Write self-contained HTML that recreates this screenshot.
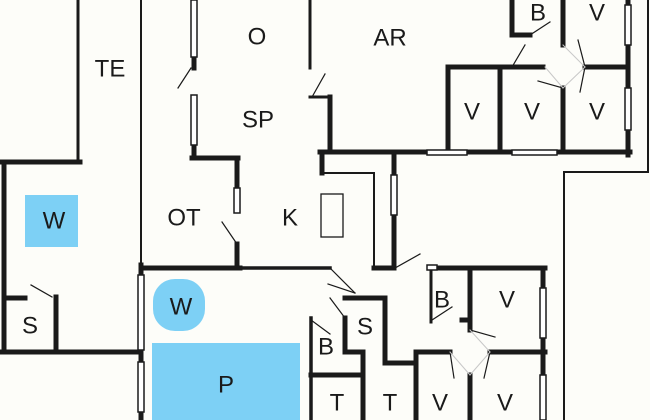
<!DOCTYPE html>
<html><head><meta charset="utf-8"><style>
html,body{margin:0;padding:0;background:#fdfdf9}
svg{display:block}
text{font-family:"Liberation Sans",sans-serif;font-size:24px;fill:#1a1a1a;text-anchor:middle;dominant-baseline:central}
</style></head><body>
<svg width="650" height="420" viewBox="0 0 650 420">
<rect width="650" height="420" fill="#fdfdf9"/>
<rect x="25" y="195" width="53" height="52" fill="#7dd0f5"/>
<rect x="153" y="279" width="52" height="52" rx="22" fill="#7dd0f5"/>
<rect x="152" y="343" width="148" height="77" fill="#7dd0f5"/>
<g stroke="#1a1a1a" fill="none" stroke-linecap="square">
<g stroke-width="2">
<line x1="78" y1="0" x2="78" y2="160" stroke-width="3"/>
<line x1="141" y1="0" x2="141" y2="265"/>
<line x1="648" y1="0" x2="648" y2="172"/>
<line x1="565" y1="172" x2="648" y2="172"/>
<line x1="564" y1="172" x2="564" y2="420"/>
<line x1="322" y1="173" x2="374" y2="173"/>
<line x1="374" y1="173" x2="374" y2="268"/>
<rect x="321" y="194" width="22" height="43" stroke-width="1.3"/>
<line x1="240" y1="268" x2="330" y2="268" stroke-width="3.5"/>
</g>
<g stroke-width="5">
<line x1="0" y1="162" x2="80" y2="162"/>
<line x1="4" y1="162" x2="4" y2="352"/>
<line x1="0" y1="352" x2="141" y2="352"/>
<line x1="4" y1="298" x2="25" y2="298"/>
<line x1="56" y1="297" x2="56" y2="352"/>
<line x1="141" y1="265" x2="141" y2="420"/>
<line x1="141" y1="268" x2="240" y2="268"/>
<line x1="194" y1="57" x2="194" y2="68"/>
<line x1="194" y1="145" x2="194" y2="158"/>
<line x1="192" y1="158" x2="238" y2="158"/>
<line x1="237" y1="158" x2="237" y2="188"/>
<line x1="237" y1="244" x2="237" y2="268"/>
<line x1="310" y1="0" x2="310" y2="68" stroke-width="3"/>
<line x1="310" y1="97" x2="330" y2="97" stroke-width="3"/>
<line x1="330" y1="97" x2="330" y2="152"/>
<line x1="320" y1="152" x2="630" y2="152"/>
<line x1="322" y1="152" x2="322" y2="173"/>
<line x1="374" y1="268" x2="392" y2="268"/>
<line x1="394" y1="152" x2="394" y2="268"/>
<line x1="437" y1="268" x2="545" y2="268"/>
<line x1="628" y1="0" x2="628" y2="155"/>
<line x1="512" y1="0" x2="512" y2="35"/>
<line x1="512" y1="35" x2="530" y2="35"/>
<line x1="563" y1="0" x2="563" y2="45"/>
<line x1="448" y1="67" x2="543" y2="67"/>
<line x1="585" y1="67" x2="628" y2="67"/>
<line x1="448" y1="67" x2="448" y2="152"/>
<line x1="500" y1="67" x2="500" y2="152"/>
<line x1="563" y1="88" x2="563" y2="152"/>
<line x1="311" y1="318" x2="311" y2="420" stroke-width="3.5"/>
<line x1="311" y1="375" x2="363" y2="375"/>
<line x1="345" y1="298" x2="385" y2="298"/>
<line x1="385" y1="298" x2="385" y2="363"/>
<line x1="345" y1="318" x2="345" y2="352"/>
<line x1="345" y1="352" x2="363" y2="352"/>
<line x1="363" y1="352" x2="363" y2="420"/>
<line x1="385" y1="363" x2="416" y2="363"/>
<line x1="416" y1="352" x2="416" y2="420"/>
<line x1="416" y1="352" x2="450" y2="352"/>
<line x1="490" y1="352" x2="545" y2="352"/>
<line x1="470" y1="375" x2="470" y2="420"/>
<line x1="431" y1="268" x2="431" y2="322" stroke-width="3"/>
<line x1="470" y1="268" x2="470" y2="330"/>
<line x1="462" y1="320" x2="470" y2="320"/>
<line x1="543" y1="268" x2="543" y2="420"/>
</g>
<g fill="#fff" stroke-width="1.5">
<rect x="191" y="0" width="6" height="57"/>
<rect x="191" y="95" width="6" height="50"/>
<rect x="234" y="188" width="6" height="25"/>
<rect x="138" y="275" width="6" height="75"/>
<rect x="138" y="362" width="6" height="50"/>
<rect x="625" y="5" width="6" height="40"/>
<rect x="625" y="88" width="6" height="42"/>
<rect x="427" y="150" width="40" height="5"/>
<rect x="512" y="150" width="45" height="5"/>
<rect x="427" y="265" width="10" height="5"/>
<rect x="391" y="175" width="6" height="40"/>
<rect x="540" y="288" width="6" height="50"/>
<rect x="540" y="375" width="6" height="45"/>
</g>
<g stroke-width="1.2">
<line x1="191" y1="68" x2="178" y2="88"/>
<line x1="312" y1="97" x2="325" y2="74"/>
<line x1="237" y1="244" x2="222" y2="222"/>
<line x1="52" y1="297" x2="31" y2="285"/>
<line x1="530" y1="35" x2="550" y2="22"/>
<line x1="512" y1="67" x2="525" y2="45"/>
<line x1="585" y1="67" x2="578" y2="40"/>
<line x1="585" y1="67" x2="580" y2="92"/>
<line x1="563" y1="88" x2="538" y2="81"/>
<line x1="395" y1="268" x2="420" y2="254"/>
<line x1="330" y1="268" x2="355" y2="293"/>
<line x1="355" y1="293" x2="328" y2="284"/>
<line x1="345" y1="318" x2="330" y2="298"/>
<line x1="311" y1="320" x2="330" y2="334"/>
<line x1="432" y1="320" x2="452" y2="307"/>
<line x1="470" y1="330" x2="495" y2="337"/>
<line x1="450" y1="352" x2="454" y2="378"/>
<line x1="490" y1="352" x2="484" y2="378"/>
</g>
<g stroke="#c8c8c8" stroke-width="1">
<line x1="545" y1="67" x2="563" y2="88"/>
<line x1="563" y1="88" x2="585" y2="67"/>
<line x1="563" y1="45" x2="585" y2="67"/>
<line x1="450" y1="352" x2="470" y2="375"/>
<line x1="470" y1="375" x2="490" y2="352"/>
<line x1="470" y1="330" x2="490" y2="352"/>
</g>
</g>
<text x="110" y="69">TE</text>
<text x="257" y="37">O</text>
<text x="390" y="38">AR</text>
<text x="258" y="120">SP</text>
<text x="538" y="13">B</text>
<text x="597" y="13">V</text>
<text x="472" y="112">V</text>
<text x="532" y="112">V</text>
<text x="597" y="112">V</text>
<text x="54" y="221">W</text>
<text x="184" y="218">OT</text>
<text x="290" y="218">K</text>
<text x="30" y="326">S</text>
<text x="181" y="307">W</text>
<text x="226" y="385">P</text>
<text x="326" y="347">B</text>
<text x="365" y="327">S</text>
<text x="442" y="300">B</text>
<text x="507" y="300">V</text>
<text x="337" y="403">T</text>
<text x="390" y="403">T</text>
<text x="440" y="403">V</text>
<text x="505" y="403">V</text>
</svg>
</body></html>
